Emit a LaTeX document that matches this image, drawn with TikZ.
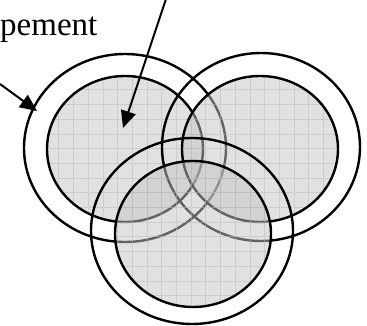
\documentclass[tikz,border=0pt]{standalone}
\usepackage{fontspec}
\setmainfont{Liberation Serif}
\usetikzlibrary{arrows.meta}
\tikzset{
  ring/.style={draw=black, line width=2.4pt},
  disc/.style={fill=black!23, fill opacity=0.5},
  gridline/.style={draw=black!28, draw opacity=0.5, line width=0.8pt},
  pointer/.style={draw=black, line width=2pt, -{Triangle[length=17pt,width=15pt]}},
  lbl/.style={font=\fontsize{33}{36}\selectfont, inner sep=0pt, anchor=base west}
}
\newcommand{\gdisc}[4]{%
  \begin{scope}
    \clip (#1,#2) ellipse [x radius=#3pt, y radius=#4pt];
    \fill[disc] (#1,#2) ellipse [x radius=#3pt, y radius=#4pt];
    \draw[gridline] (0,0) grid[step=14.7pt] (367,325);
  \end{scope}
  \draw[ring] (#1,#2) ellipse [x radius=#3pt, y radius=#4pt];
}
\begin{document}
\begin{tikzpicture}[x=1pt,y=1pt]
\useasboundingbox (0,0) rectangle (367,325);
% left pair
\draw[ring] (125,177) ellipse [x radius=101pt, y radius=94pt];
\gdisc{125}{176}{78}{73}
% right pair
\draw[ring] (261,178) ellipse [x radius=99pt, y radius=94pt];
\gdisc{260}{176}{78}{73}
% bottom pair
\draw[ring] (192,94) ellipse [x radius=101pt, y radius=93pt];
\gdisc{193}{91}{78}{73}
% labels and pointers
\node[lbl] (dev) at (0,290) {pement};
\coordinate (a1s) at (0,241);
\coordinate (a1e) at (37,214);
\coordinate (a2s) at (166,326);
\coordinate (a2e) at (123,197);
\draw[pointer] (a1s) -- (a1e);
\draw[pointer] (a2s) -- (a2e);
\end{tikzpicture}
\end{document}
